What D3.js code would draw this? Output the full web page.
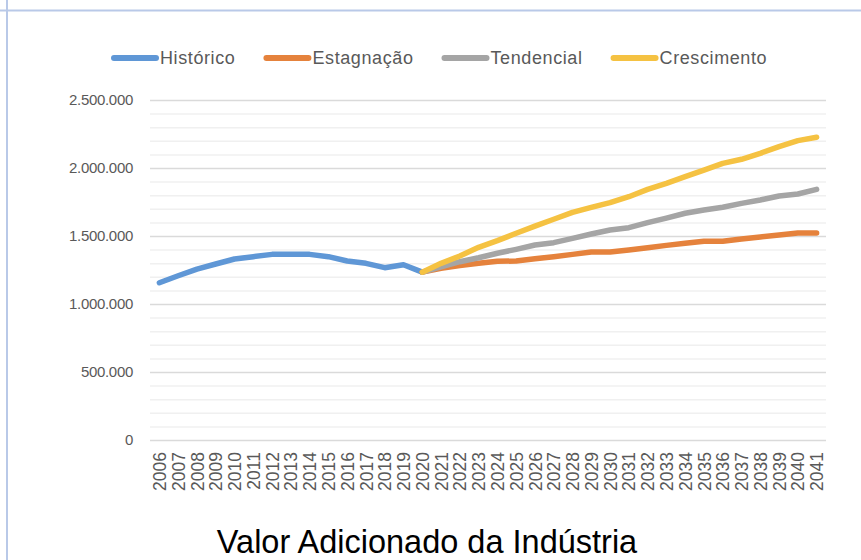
<!DOCTYPE html>
<html>
<head>
<meta charset="utf-8">
<script src="https://cdn.jsdelivr.net/npm/d3@7"></script>
<style>
  body { margin: 0; background: #fff; }
  svg { display: block; font-family: "Liberation Sans", Arial, sans-serif; }
</style>
</head>
<body>
<svg id="chart" width="861" height="560"></svg>
<script>
// dados
const years = d3.range(2006, 2042).map(String);
const historico = [1156000, 1208000, 1257000, 1294000, 1331000, 1348000, 1365000, 1365000, 1365000, 1348000,
  1316000, 1299000, 1267000, 1289000, 1234000];
const estagnacao = [1234000, 1262000, 1282000, 1299000, 1314000, 1316000, 1333000, 1348000, 1365000, 1382000, 1382000,
  1397000, 1414000, 1431000, 1446000, 1461000, 1461000, 1478000, 1493000, 1507000, 1522000, 1522000];
const tendencial = [1234000, 1274000, 1311000, 1340000, 1373000, 1402000, 1434000, 1451000, 1483000, 1515000, 1544000,
  1561000, 1598000, 1632000, 1667000, 1691000, 1711000, 1740000, 1765000, 1794000, 1809000, 1843000];
const crescimento = [1234000, 1299000, 1353000, 1417000, 1466000, 1520000, 1573000, 1623000, 1674000, 1711000, 1745000,
  1789000, 1843000, 1887000, 1936000, 1985000, 2034000, 2064000, 2108000, 2157000, 2201000, 2226000];
const yTicks = [0, 500000, 1000000, 1500000, 2000000, 2500000];

const series = [
  { name: "Histórico", color: "#5f97d6", start: 0, values: historico },
  { name: "Estagnação", color: "#e5823c", start: 14, values: estagnacao },
  { name: "Tendencial", color: "#a5a5a5", start: 14, values: tendencial },
  { name: "Crescimento", color: "#f5c242", start: 14, values: crescimento },
];

const svg = d3.select("#chart");
const plotL = 150, plotR = 826, plotT = 100, plotB = 440;

// moldura
svg.append("line").attr("x1", 0).attr("x2", 861).attr("y1", 10.5).attr("y2", 10.5)
  .attr("stroke", "#b9c9e8").attr("stroke-width", 2);
svg.append("line").attr("x1", 7).attr("x2", 7).attr("y1", 0).attr("y2", 560)
  .attr("stroke", "#b9c9e8").attr("stroke-width", 2);

const x = d3.scalePoint().domain(years).range([plotL, plotR]).padding(0.5);
const y = d3.scaleLinear().domain([0, 2500000]).range([plotB, plotT]);

// grade
const minor = d3.range(0, 2500001, 100000).filter(v => v % 500000 !== 0);
svg.append("g").selectAll("line").data(minor).join("line")
  .attr("x1", plotL).attr("x2", plotR)
  .attr("y1", d => y(d) + 0.5).attr("y2", d => y(d) + 0.5)
  .attr("stroke", "#f0f0f0").attr("stroke-width", 1.5);
svg.append("g").selectAll("line").data(yTicks).join("line")
  .attr("x1", plotL).attr("x2", plotR)
  .attr("y1", d => y(d) + 0.5).attr("y2", d => y(d) + 0.5)
  .attr("stroke", "#dadada").attr("stroke-width", 1.5);

// eixo y
const fmt = v => v === 0 ? "0" : d3.format(",")(v).replace(/,/g, ".");
const yAxis = svg.append("g")
  .attr("transform", `translate(${plotL - 17},0)`)
  .call(d3.axisLeft(y).tickValues(yTicks).tickFormat(fmt).tickSize(0).tickPadding(0));
yAxis.select(".domain").remove();
yAxis.selectAll("text").attr("font-size", 15).attr("fill", "#595959")
  .attr("letter-spacing", -0.3)
  .attr("font-family", "Liberation Sans, Arial, sans-serif");

// eixo x
const xAxis = svg.append("g")
  .attr("transform", `translate(0,${plotB})`)
  .call(d3.axisBottom(x).tickSize(0).tickPadding(0));
xAxis.select(".domain").remove();
xAxis.selectAll("text")
  .attr("font-size", 17.5).attr("fill", "#595959")
  .attr("font-family", "Liberation Sans, Arial, sans-serif")
  .attr("transform", "rotate(-90)")
  .attr("text-anchor", "end")
  .attr("x", -12).attr("y", 0).attr("dy", "0.35em");

// linhas
const line = d3.line()
  .x(d => x(d.year))
  .y(d => y(d.v));
series.forEach(s => {
  const pts = s.values.map((v, i) => ({ year: years[s.start + i], v: v }));
  svg.append("path").datum(pts)
    .attr("d", line)
    .attr("fill", "none")
    .attr("stroke", s.color)
    .attr("stroke-width", 5.5)
    .attr("stroke-linejoin", "round")
    .attr("stroke-linecap", "round");
});

// legenda
const leg = svg.append("g").attr("class", "legend").attr("transform", "translate(112,58)");
let lx = 0;
series.forEach((s, i) => {
  const g = leg.append("g").attr("transform", `translate(${lx},0)`);
  g.append("line").attr("x1", 2).attr("x2", 44).attr("y1", 0).attr("y2", 0)
    .attr("stroke", s.color).attr("stroke-width", 6).attr("stroke-linecap", "round");
  const t = g.append("text").attr("x", 48).attr("dy", "0.35em")
    .attr("font-size", 18).attr("letter-spacing", 0.6)
    .attr("fill", "#595959").text(s.name);
  lx += 48 + t.node().getComputedTextLength() + 29;
});

// título
svg.append("text")
  .attr("x", 427).attr("y", 553)
  .attr("text-anchor", "middle")
  .attr("font-size", 32.5)
  .attr("fill", "#000")
  .text("Valor Adicionado da Indústria");
</script>
</body>
</html>
